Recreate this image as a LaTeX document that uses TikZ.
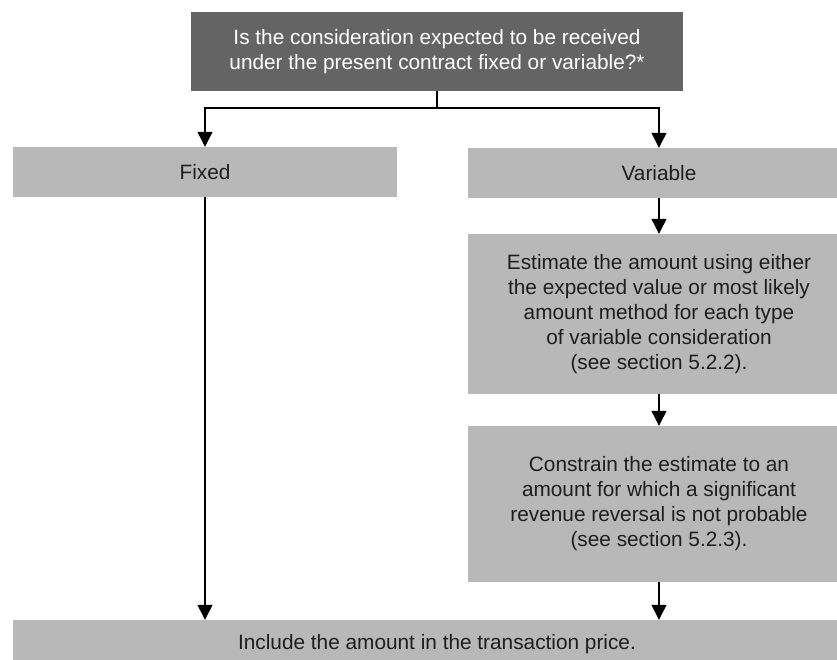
\documentclass[tikz,border=0pt]{standalone}
\usepackage{fontspec}
\setmainfont{Liberation Sans}
\usetikzlibrary{arrows.meta}
\definecolor{darkbox}{HTML}{646464}
\definecolor{lightbox}{HTML}{B8B8B8}
\definecolor{inktext}{HTML}{1E1E1E}
\tikzset{
  box/.style={rectangle, fill=lightbox, inner sep=0pt, align=center, text=inktext,
    font=\fontsize{20.8}{25}\selectfont},
  topbox/.style={box, fill=darkbox, text=white},
  arr/.style={-{Triangle[width=15pt,length=15pt]}, line width=1.2pt, draw=black},
  ln/.style={line width=1.2pt, draw=black}
}
\begin{document}
\begin{tikzpicture}[x=1pt,y=-1pt]
\clip (0,0) rectangle (837,660);
\node[topbox, minimum width=492pt, minimum height=79pt] (top) at (437,51.5)
  {Is the consideration expected to be received\\under the present contract fixed or variable?*};
\node[box, minimum width=384pt, minimum height=50pt] (fixed) at (205,172) {Fixed};
\node[box, minimum width=382pt, minimum height=50pt] (var) at (659,173) {Variable};
\node[box, minimum width=382pt, minimum height=160pt] (est) at (659,314)
  {Estimate the amount using either\\the expected value or most likely\\amount method for each type\\of variable consideration\\(see section 5.2.2).};
\node[box, minimum width=382pt, minimum height=156pt] (con) at (659,504)
  {\rule{0pt}{8pt}Constrain the estimate to an\\amount for which a significant\\revenue reversal is not probable\\(see section 5.2.3).};
\node[box, minimum width=848pt, minimum height=48pt] (incl) at (437,644)
  {Include the amount in the transaction price.};
\coordinate (j) at (437,108);
\draw[ln] (top.south) -- (j);
\draw[arr] (j) -| (fixed.north);
\draw[arr] (j) -| (var.north);
\draw[arr] (var.south) -- (est.north);
\draw[arr] (est.south) -- (con.north);
\draw[arr] (fixed.south) -- (fixed.south |- incl.north);
\draw[arr] (con.south) -- (con.south |- incl.north);
\end{tikzpicture}
\end{document}
